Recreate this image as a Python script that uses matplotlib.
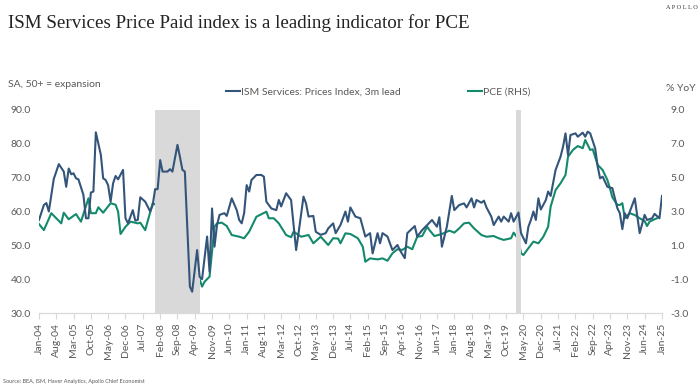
import numpy as np
import pandas as pd
import matplotlib
matplotlib.use("Agg")
import matplotlib.pyplot as plt
import matplotlib.dates as mdates

# months counted from Jan-2004
ism_months = [0, 2, 3, 4, 6, 8, 10, 11, 12, 13, 14, 15, 16, 18, 19, 20, 21, 22, 23, 25,
              26, 27, 28, 29, 30, 31, 32, 34, 35, 36, 38, 39, 40, 41, 43, 45, 46, 47, 48, 49,
              50, 52, 53, 54, 56, 57, 58, 59, 61, 62, 64, 65, 66, 68, 69, 70, 71, 72, 73, 75,
              76, 78, 80, 81, 82, 83, 84, 85, 86, 88, 90, 91, 92, 94, 96, 97, 98, 100, 102, 104,
              105, 107, 108, 109, 111, 112, 114, 116, 117, 119, 120, 122, 124, 125, 126, 128, 130, 132, 134, 135,
              137, 138, 139, 141, 143, 145, 146, 148, 149, 151, 152, 153, 155, 157, 159, 161, 162, 163, 165, 167,
              168, 170, 172, 173, 175, 176, 177, 179, 180, 181, 183, 184, 186, 187, 188, 190, 191, 192, 194, 195,
              197, 198, 199, 200, 201, 202, 203, 205, 206, 207, 209, 211, 212, 213, 214, 215, 217, 218, 220, 221,
              222, 223, 225, 226, 227, 228, 230, 232, 234, 235, 236, 237, 238, 241, 243, 245, 246, 248, 249, 251,
              252]
ism_vals = [57.5, 61.9, 62.5, 60.0, 69.6, 74.0, 71.8, 67.3, 72.7, 71.0, 71.3, 69.8, 69.5, 64.9, 58.0, 58.0, 65.6, 65.9, 83.4, 76.7,
            69.8, 69.3, 67.8, 62.9, 68.3, 70.5, 69.5, 72.3, 58.0, 56.5, 60.4, 57.3, 57.5, 64.2, 62.9, 60.0, 61.9, 66.6, 66.6, 75.2,
            71.8, 71.8, 72.5, 71.8, 79.7, 76.2, 72.3, 71.8, 37.8, 36.3, 48.6, 40.7, 40.0, 52.6, 42.2, 60.9, 49.6, 56.0, 59.0, 59.5,
            58.7, 63.9, 60.4, 57.5, 56.5, 59.5, 67.8, 65.9, 69.3, 70.8, 70.8, 70.3, 62.9, 60.9, 60.4, 63.4, 61.5, 65.4, 63.4, 48.6,
            53.6, 64.4, 62.4, 58.5, 58.7, 54.0, 53.1, 53.6, 55.0, 56.5, 53.6, 56.0, 60.0, 57.0, 61.2, 58.5, 58.0, 52.6, 53.6, 47.6,
            53.6, 50.6, 53.6, 52.6, 48.6, 50.1, 48.6, 46.2, 53.6, 55.0, 55.7, 52.6, 54.5, 56.0, 57.5, 55.5, 58.3, 49.6, 55.5, 64.6,
            60.4, 61.9, 62.4, 61.2, 63.9, 61.2, 63.4, 62.6, 63.2, 61.2, 58.5, 56.0, 58.5, 57.0, 58.5, 57.0, 59.5, 57.0, 59.7, 53.6,
            50.6, 55.5, 57.5, 60.0, 57.5, 63.9, 60.6, 63.4, 65.9, 64.6, 72.3, 76.2, 79.2, 83.1, 76.7, 82.6, 83.1, 82.1, 83.3, 82.1,
            83.6, 83.1, 78.7, 73.3, 69.8, 70.3, 67.3, 66.9, 61.0, 59.5, 54.8, 59.5, 58.0, 63.9, 53.6, 59.0, 57.5, 58.0, 59.3, 58.0,
            64.6]

pce_months = [0, 2, 5, 7, 9, 10, 12, 15, 17, 20, 21, 23, 24, 26, 29, 31, 32, 33, 35, 37,
              40, 41, 43, 46, 49, 51, 53, 54, 55, 57, 58, 59, 61, 63, 65, 66, 67, 69, 71, 72,
              74, 76, 78, 81, 83, 85, 88, 92, 93, 95, 97, 100, 102, 103, 106, 109, 111, 114, 117, 119,
              121, 122, 124, 126, 129, 131, 132, 134, 137, 139, 141, 143, 145, 147, 149, 151, 153, 155, 157, 158,
              160, 163, 166, 168, 170, 172, 174, 176, 179, 181, 184, 186, 188, 191, 192, 194, 195, 196, 198, 200,
              202, 204, 206, 207, 209, 211, 213, 214, 216, 218, 220, 221, 223, 224, 226, 227, 228, 230, 231, 232,
              234, 235, 236, 237, 239, 241, 243, 245, 246, 247, 249, 250]
pce_vals = [2.26, 1.9, 2.9, 2.6, 2.3, 2.93, 2.54, 2.85, 2.4, 3.78, 2.9, 2.9, 3.25, 2.93, 3.49, 3.4, 3.0, 1.67, 2.1, 2.4,
            2.3, 2.34, 1.9, 3.49, 3.29, 3.13, 3.58, 4.11, 3.88, 2.69, 1.12, 0.13, -0.46, -0.85, -1.0, -1.44, -1.15, -0.85, 2.1, 2.3,
            2.34, 2.14, 1.61, 1.51, 1.42, 1.81, 2.69, 2.99, 2.6, 2.6, 2.3, 1.61, 1.48, 1.81, 1.51, 1.61, 1.12, 1.51, 1.02, 1.42,
            1.4, 1.12, 1.71, 1.67, 1.42, 0.92, 0.03, 0.23, 0.17, 0.23, 0.09, 0.53, 0.77, 0.73, 0.92, 0.77, 1.51, 1.55, 2.1, 1.9,
            1.55, 1.67, 1.87, 1.75, 2.0, 2.3, 2.34, 2.0, 1.61, 1.51, 1.55, 1.42, 1.32, 1.42, 1.75, 1.36, 0.53, 0.43, 0.83, 1.22,
            1.12, 1.51, 2.1, 3.29, 4.27, 4.67, 5.16, 6.24, 6.64, 6.87, 6.74, 7.23, 6.64, 6.68, 5.75, 5.61, 5.45, 4.86, 4.37, 3.84,
            3.39, 3.39, 3.49, 2.6, 2.9, 2.79, 2.6, 2.44, 2.14, 2.4, 2.54, 2.6]

recessions = [("2007-12-01", "2009-06-01"), ("2020-02-01", "2020-04-01")]

start = np.datetime64("2004-01", "M")
ism_dates = (start + np.array(ism_months)).astype("datetime64[D]")
pce_dates = (start + np.array(pce_months)).astype("datetime64[D]")

plt.rcParams["font.family"] = ["Lato", "DejaVu Sans"]
grey = "#595959"
blue = "#34557a"
green = "#138a6c"

fig = plt.figure(figsize=(7, 3.92), dpi=100)
ax = fig.add_axes([0.0557, 0.2015, 0.89, 0.5179])
ax2 = ax.twinx()

for a, b in recessions:
    ax.axvspan(pd.Timestamp(a), pd.Timestamp(b), color="#d9d9d9", lw=0, zorder=0)

l1, = ax.plot(ism_dates, ism_vals, color=blue, lw=1.5, zorder=3,
              label="ISM Services: Prices Index, 3m lead")
l2, = ax2.plot(pce_dates, pce_vals, color=green, lw=1.5, zorder=2, label="PCE (RHS)")
ax.set_zorder(2)
ax.patch.set_visible(False)
ax2.set_zorder(1)

ax.set_xlim(pd.Timestamp("2004-01-01"), pd.Timestamp("2025-01-01"))
ax.set_ylim(30, 90)
ax2.set_ylim(-3, 9)
ax.set_yticks(np.arange(30, 91, 10))
ax2.set_yticks(np.arange(-3, 10, 2))
ax.yaxis.set_major_formatter(matplotlib.ticker.FormatStrFormatter("%.1f"))
ax2.yaxis.set_major_formatter(matplotlib.ticker.FormatStrFormatter("%.1f"))

ticks = pd.date_range("2004-01-01", "2025-01-01", freq="7MS")
ax.set_xticks(ticks)
ax.xaxis.set_major_formatter(mdates.DateFormatter("%b-%y"))
for lab in ax.get_xticklabels():
    lab.set_rotation(90)

for a in (ax, ax2):
    for s in ("top", "left", "right"):
        a.spines[s].set_visible(False)
    a.spines["bottom"].set_color("#d9d9d9")
    a.tick_params(axis="y", length=0, labelsize=7.5, labelcolor=grey, pad=6)
ax.tick_params(axis="x", length=4, color="#d9d9d9", labelsize=7.5, labelcolor=grey, pad=3)

fig.text(0.011, 0.94, "ISM Services Price Paid index is a leading indicator for PCE",
         family="Liberation Serif", fontsize=13.7, color="#222222", va="center")
fig.text(0.997, 0.98, "A P O L L O", family="Liberation Serif", fontsize=4.5,
         color="#333333", ha="right", va="center")
fig.text(0.011, 0.785, "SA, 50+ = expansion", fontsize=7.5, color=grey, va="center")
fig.text(0.993, 0.775, "% YoY", fontsize=7.5, color=grey, va="center", ha="right")
fig.text(0.004, 0.028, "Source: BEA, ISM, Haver Analytics, Apollo Chief Economist",
         fontsize=4, color=grey, va="center")

fig.legend(handles=[l1, l2], loc="center", bbox_to_anchor=(0.54, 0.765), ncol=2,
           frameon=False, fontsize=7.5, labelcolor=grey, handlelength=1.3,
           handletextpad=0.1, columnspacing=6.5)

fig.savefig("out.png", dpi=100)
